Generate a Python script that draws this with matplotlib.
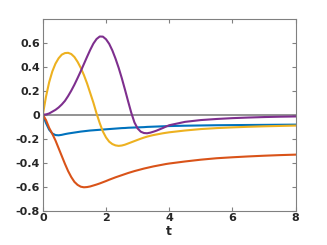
import matplotlib
matplotlib.use("Agg")
import matplotlib.pyplot as plt

t = [0, 0.1, 0.2, 0.3, 0.4, 0.5, 0.6, 0.7, 0.8, 0.9, 1.0, 1.1, 1.2, 1.3, 1.4,
     1.5, 1.6, 1.7, 1.8, 1.9, 2.0, 2.1, 2.2, 2.3, 2.4, 2.5, 2.6, 2.7, 2.8,
     2.9, 3.0, 3.1, 3.2, 3.3, 3.4, 3.5, 3.6, 3.7, 3.8, 3.9, 4.0,
     4.5, 5.0, 5.5, 6.0, 6.5, 7.0, 7.5, 8.0]

blue = [0, -0.07, -0.125, -0.157, -0.17, -0.172, -0.168, -0.162, -0.157,
        -0.153, -0.149, -0.145, -0.141, -0.138, -0.135, -0.132, -0.13, -0.128,
        -0.126, -0.124, -0.122, -0.12, -0.118, -0.116, -0.114, -0.112, -0.111,
        -0.109, -0.108, -0.107, -0.106, -0.105, -0.104, -0.102, -0.101, -0.1,
        -0.099, -0.098, -0.097, -0.096, -0.095,
        -0.092, -0.09, -0.088, -0.087, -0.086, -0.085, -0.084, -0.083]

orange = [0, -0.045, -0.11, -0.16, -0.215, -0.28, -0.345, -0.41, -0.47,
          -0.52, -0.56, -0.585, -0.6, -0.605, -0.603, -0.598, -0.59, -0.582,
          -0.573, -0.563, -0.553, -0.542, -0.532, -0.522, -0.513, -0.504,
          -0.495, -0.486, -0.478, -0.47, -0.463, -0.456, -0.449, -0.443,
          -0.437, -0.431, -0.426, -0.421, -0.416, -0.411, -0.407,
          -0.39, -0.375, -0.363, -0.355, -0.348, -0.342, -0.337, -0.333]

yellow = [0, 0.15, 0.27, 0.36, 0.425, 0.47, 0.5, 0.513, 0.515, 0.505, 0.48,
          0.44, 0.39, 0.33, 0.26, 0.18, 0.1, 0.01, -0.07, -0.14, -0.19,
          -0.225, -0.245, -0.256, -0.26, -0.257, -0.25, -0.24, -0.23, -0.22,
          -0.21, -0.2, -0.191, -0.183, -0.176, -0.17, -0.165, -0.16, -0.155,
          -0.151, -0.147,
          -0.132, -0.12, -0.112, -0.106, -0.101, -0.097, -0.094, -0.091]

purple = [0, 0.002, 0.01, 0.025, 0.04, 0.06, 0.085, 0.115, 0.155, 0.2, 0.25,
          0.305, 0.362, 0.422, 0.482, 0.54, 0.592, 0.63, 0.651, 0.65, 0.628,
          0.59, 0.535, 0.467, 0.39, 0.303, 0.208, 0.11, 0.015, -0.065,
          -0.115, -0.142, -0.153, -0.155, -0.15, -0.142, -0.133, -0.122,
          -0.111, -0.099, -0.088,
          -0.06, -0.045, -0.036, -0.029, -0.024, -0.02, -0.017, -0.015]

colors = ["#0072BD", "#D95319", "#EDB120", "#7E2F8E"]

fig = plt.figure(figsize=(3.27, 2.45), dpi=100)
ax = fig.add_axes([0.131, 0.14, 0.773, 0.784])

ax.axhline(0, color="#808080", lw=1.2, zorder=1)
for y, c in zip([blue, orange, yellow, purple], colors):
    ax.plot(t, y, color=c, lw=1.5, zorder=2)

ax.set_xlim(0, 8)
ax.set_ylim(-0.8, 0.8)
ax.set_xticks([0, 2, 4, 6, 8])
ax.set_yticks([-0.8, -0.6, -0.4, -0.2, 0, 0.2, 0.4, 0.6])
ax.set_yticklabels(["-0.8", "-0.6", "-0.4", "-0.2", "0", "0.2", "0.4", "0.6"])
ax.tick_params(direction="in", top=True, right=True, length=3, width=0.8,
               color="#808080", labelsize=8, pad=2)
for lab in ax.get_xticklabels() + ax.get_yticklabels():
    lab.set_fontweight("bold")
    lab.set_color("#262626")
for s in ax.spines.values():
    s.set_color("#808080")
    s.set_linewidth(0.8)
ax.set_xlabel("t", fontsize=9, fontweight="bold", color="#262626", labelpad=1)

fig.savefig("out.png", dpi=100)
